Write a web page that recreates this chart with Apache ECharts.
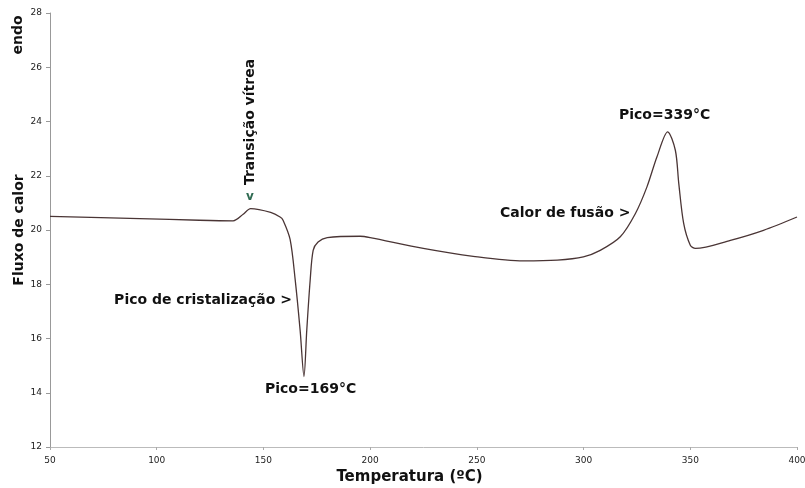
<!DOCTYPE html>
<html>
<head>
<meta charset="utf-8">
<script src="https://cdn.jsdelivr.net/npm/echarts@6/dist/echarts.min.js"></script>
<style>
  html, body { margin: 0; padding: 0; background: #fff; }
  #chart { width: 805px; height: 488px; }
</style>
</head>
<body>
<div id="chart"></div>
<script>
// curva DSC - temperatura (ºC) x fluxo de calor
const tempC = [50, 92, 120, 135.8, 140.5, 144, 153.4, 157.8, 159.2, 162.5, 164.9, 167.2, 169, 170.3, 171.9, 173.3, 175.6, 179.9, 195.3, 200, 224.9, 248.3, 271.8, 287.7, 299.9, 307.8, 317.2, 324.3, 329.7, 334.4, 339.4, 343, 344.6, 346.9, 350, 352.4, 368.8, 384.3, 400];
const heatFlow = [20.5, 20.42, 20.36, 20.34, 20.58, 20.79, 20.65, 20.48, 20.36, 19.65, 18.15, 16.3, 14.6, 16.3, 18.15, 19.25, 19.56, 19.72, 19.77, 19.72, 19.32, 19.03, 18.86, 18.89, 19.01, 19.25, 19.75, 20.61, 21.59, 22.7, 23.62, 22.94, 21.72, 20.24, 19.44, 19.32, 19.62, 19.99, 20.48];
const xTicks = [50, 100, 150, 200, 250, 300, 350, 400];
const yTicks = [12, 14, 16, 18, 20, 22, 24, 26, 28];

const font = "DejaVu Sans";
let myChart = echarts.init(document.getElementById("chart"));
let curve = tempC.map((t, k) => [t, heatFlow[k]]);

const note = (x, y, text, extra) => Object.assign({
  type: "text",
  x: x, y: y,
  style: { text: text, font: "bold 14px '" + font + "'", fill: "#111", textVerticalAlign: "middle" }
}, extra || {});

let option = {
  backgroundColor: "#fff",
  animation: false,
  grid: { left: 50, right: 8, top: 13, bottom: 41, containLabel: false, outerBoundsMode: "none" }, // área do gráfico
  xAxis: {
    type: "value",
    min: xTicks[0],
    max: xTicks[xTicks.length - 1],
    interval: 50,
    name: "Temperatura (ºC)",
    nameLocation: "middle",
    nameGap: 22,
    nameTextStyle: { fontFamily: font, fontWeight: "bold", fontSize: 15, color: "#111", padding: [0, 28, 0, 0] },
    axisLine: { lineStyle: { color: "#bbb", width: 1 } },
    axisTick: { show: true, length: 3, lineStyle: { color: "#aaa" } },
    axisLabel: { fontFamily: font, fontSize: 9, color: "#222", margin: 9 },
    splitLine: { show: false }
  },
  yAxis: {
    type: "value",
    min: yTicks[0],
    max: yTicks[yTicks.length - 1],
    interval: 2,
    name: "Fluxo de calor",
    nameLocation: "middle",
    nameGap: 24,
    nameMoveOverlap: false,
    nameTextStyle: { fontFamily: font, fontWeight: "bold", fontSize: 14, color: "#111" },
    axisLine: { show: true, lineStyle: { color: "#999", width: 1 } },
    axisTick: { show: true, length: 4, lineStyle: { color: "#999" } },
    axisLabel: { fontFamily: font, fontSize: 9, color: "#222", margin: 8 },
    splitLine: { show: false }
  },
  series: [
    {
      type: "line",
      data: curve,
      smooth: 0.3,
      symbol: "none",
      lineStyle: { color: "#4a3535", width: 1.3 }
    }
  ],
  graphic: [
    note(18, 35, "endo", { rotation: Math.PI / 2, style: { text: "endo", font: "bold 14px '" + font + "'", fill: "#111", textAlign: "center", textVerticalAlign: "middle" } }),
    note(250, 122, "Transição vítrea", { rotation: Math.PI / 2, style: { text: "Transição vítrea", font: "bold 14px '" + font + "'", fill: "#111", textAlign: "center", textVerticalAlign: "middle" } }),
    { type: "text", x: 250, y: 197, style: { text: "v", font: "bold 12px '" + font + "'", fill: "#2f6b52", textAlign: "center", textVerticalAlign: "middle" } },
    note(292, 300, "Pico de cristalização >", { style: { text: "Pico de cristalização >", font: "bold 14px '" + font + "'", fill: "#111", textAlign: "right", textVerticalAlign: "middle" } }),
    note(265, 389, "Pico=169°C"),
    note(500, 213, "Calor de fusão >"),
    note(619, 115, "Pico=339°C")
  ]
};
myChart.setOption(option);
</script>
</body>
</html>
